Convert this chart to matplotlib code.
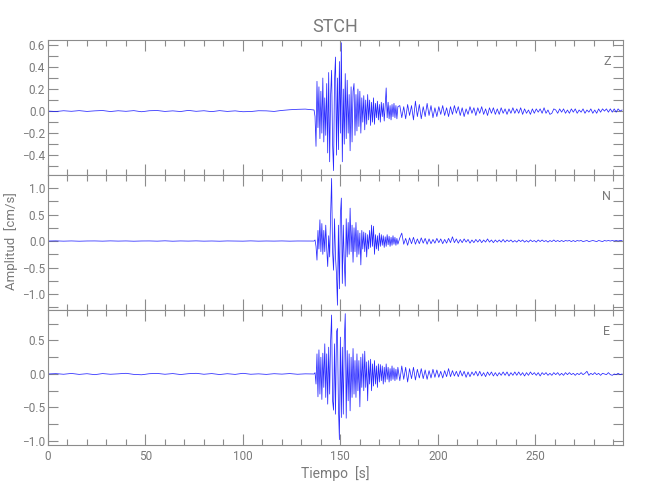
import numpy as np  # Numerical Operations
import matplotlib
matplotlib.use('Agg')
import matplotlib.pyplot as plt  # For plotting graph
from matplotlib.ticker import MultipleLocator

station = 'STCH'
components = ['Z', 'N', 'E']

# Sampling of the three segments of every trace: start time [s], step [s]
pre_start, pre_step = 0.0, 4.0
strong_start, strong_step = 136.5, 0.5
coda_start, coda_step = 180.5, 1.0

# Z component [cm/s]
z_pre = [0.0, -0.004, 0.003, -0.002, 0.004, -0.003, 0.002, 0.005, -0.004, 0.003, -0.002, 0.004,
         -0.006, 0.003, 0.005, -0.003, 0.002, -0.004, 0.006, -0.002, 0.003, -0.005, 0.004, -0.003,
         0.002, -0.006, -0.004, 0.003, 0.002, -0.003, 0.006, 0.012, 0.016, 0.018, 0.01]
z_strong = [0.01, -0.05, -0.32, 0.27, -0.15, 0.22, -0.25, 0.18, -0.2, 0.3, -0.28, 0.12,
            -0.22, 0.25, -0.38, 0.35, -0.46, 0.15, 0.37, -0.3, -0.54, 0.28, 0.49, -0.4,
            0.3, -0.35, 0.45, -0.2, 0.62, -0.46, 0.2, -0.3, 0.34, -0.25, 0.28, -0.2,
            0.15, -0.36, 0.22, -0.28, 0.18, 0.25, -0.22, 0.15, -0.18, 0.2, -0.14, 0.18,
            -0.2, 0.12, -0.1, 0.14, -0.17, 0.1, -0.12, 0.15, -0.08, 0.1, -0.13, 0.08,
            -0.1, 0.12, -0.12, 0.07, -0.06, 0.09, -0.08, 0.06, -0.1, 0.08, -0.05, 0.07,
            -0.09, 0.05, 0.21, -0.06, 0.08, -0.07, 0.05, -0.08, 0.06, -0.05, 0.07, -0.06,
            0.05, -0.07, 0.04]
z_coda = [0.05, -0.06, 0.04, -0.07, 0.06, -0.04, 0.05, -0.08, 0.09, -0.05,
          0.06, -0.07, 0.04, -0.05, 0.07, -0.04, 0.05, -0.06, 0.03, -0.05,
          0.04, -0.03, 0.05, -0.04, 0.03, -0.05, 0.04, -0.03, 0.05, -0.02,
          0.04, -0.04, 0.03, -0.05, 0.02, -0.03, 0.04, -0.02, 0.03, -0.04,
          0.03, -0.02, 0.04, -0.03, 0.02, -0.04, 0.03, -0.02, 0.03, -0.03,
          0.02, -0.03, 0.03, -0.02, 0.02, -0.03, 0.02, -0.02, 0.03, -0.02,
          0.02, -0.02, 0.03, -0.03, 0.02, -0.02, 0.01, -0.03, 0.02, -0.02,
          0.02, -0.01, 0.02, -0.02, 0.03, -0.02, 0.01, -0.03, -0.02, 0.02,
          0.01, -0.02, 0.02, -0.01, 0.02, -0.02, 0.01, -0.02, 0.02, -0.01,
          0.02, -0.02, 0.01, -0.01, 0.02, -0.02, 0.01, -0.01, 0.02, -0.02,
          0.01, -0.02, 0.02, -0.01, 0.02, 0.0, 0.02, -0.01, 0.02, -0.01,
          0.02, -0.01, 0.02, 0.0, 0.01]

# N component [cm/s]
n_pre = [0.0, 0.003, -0.002, 0.002, -0.003, 0.001, 0.002, -0.002, 0.003, -0.001, 0.002, -0.003,
         0.001, 0.002, -0.002, 0.004, -0.003, 0.002, -0.001, 0.003, -0.002, 0.001, -0.003, 0.002,
         0.001, -0.002, 0.003, -0.002, 0.001, -0.001, 0.002, -0.002, 0.001, 0.0, 0.0]
n_strong = [0.0, 0.02, -0.1, -0.36, 0.2, -0.15, 0.4, -0.2, 0.33, -0.25, 0.2, -0.2,
            0.3, -0.15, -0.48, 0.1, -0.3, 0.5, 1.18, -0.2, -0.55, 0.42, -0.3, -0.62,
            -1.21, 0.3, -0.9, 0.5, 0.81, -0.8, 0.3, -0.4, -0.85, 0.42, -0.3, 0.35,
            -0.25, 0.62, -0.2, 0.3, -0.4, 0.25, -0.2, 0.35, -0.3, 0.2, -0.25, 0.15,
            -0.45, 0.2, -0.15, 0.17, -0.2, 0.15, -0.3, 0.12, -0.15, 0.2, -0.12, 0.3,
            -0.1, 0.28, -0.25, 0.12, -0.15, 0.1, -0.18, 0.15, -0.1, 0.12, -0.08, 0.1,
            -0.12, 0.08, -0.1, 0.12, -0.07, 0.09, -0.1, 0.07, -0.08, 0.1, -0.06, 0.07,
            -0.08, 0.05, -0.06]
n_coda = [0.06, 0.15, -0.06, 0.05, -0.08, 0.06, -0.05, 0.07, -0.06, 0.04,
          -0.05, 0.06, -0.04, 0.05, -0.06, 0.04, -0.05, 0.03, -0.04, 0.05,
          -0.03, 0.04, -0.05, 0.03, -0.04, 0.05, -0.03, 0.08, -0.03, 0.04,
          -0.04, 0.03, -0.03, 0.04, -0.02, 0.03, -0.04, 0.02, -0.03, 0.03,
          -0.02, 0.03, -0.03, 0.02, -0.02, 0.04, -0.02, 0.02, -0.03, 0.02,
          -0.02, 0.02, -0.02, 0.03, -0.02, 0.02, -0.01, 0.02, -0.02, 0.01,
          -0.02, 0.02, -0.01, 0.02, -0.02, 0.01, -0.02, 0.02, -0.01, 0.01,
          -0.02, 0.02, -0.01, 0.02, -0.01, 0.01, -0.02, 0.01, -0.01, 0.02,
          -0.01, 0.01, -0.01, 0.01, -0.01, 0.01, 0.0, 0.01, -0.01, 0.01,
          -0.01, 0.01, 0.0, 0.01, -0.01, 0.0, 0.01, -0.01, 0.0, 0.01,
          0.0, -0.01, 0.01, 0.0, -0.01, 0.01, 0.0, 0.01, 0.0, 0.01,
          0.0, 0.01, 0.0, 0.01, 0.01]

# E component [cm/s]
e_pre = [0.0, 0.005, -0.004, 0.008, -0.006, 0.004, -0.01, 0.006, -0.004, 0.002, 0.01, -0.006,
         -0.012, 0.004, 0.008, -0.004, 0.006, -0.008, 0.004, 0.01, -0.004, 0.006, -0.008, 0.004,
         -0.006, 0.01, -0.004, 0.002, -0.006, 0.004, -0.002, 0.006, -0.004, 0.002, 0.0]
e_strong = [0.0, 0.02, -0.15, 0.3, -0.34, 0.36, -0.3, 0.25, -0.38, 0.31, -0.2, 0.45,
            -0.35, 0.3, -0.45, 0.4, -0.3, 0.5, 0.88, -0.4, -0.54, 0.45, -0.6, 0.63,
            0.68, -0.5, -0.98, 0.55, -0.65, 0.4, -0.6, 0.5, 0.9, -0.66, 0.35, -0.4,
            0.3, -0.55, 0.25, -0.35, 0.38, -0.3, 0.2, -0.35, 0.3, -0.25, 0.2, -0.49,
            0.25, -0.2, 0.3, -0.25, 0.34, -0.2, 0.18, -0.4, 0.2, -0.15, 0.22, -0.25,
            0.15, -0.18, 0.2, -0.15, 0.12, -0.2, 0.15, -0.12, 0.14, -0.1, 0.12, -0.15,
            0.1, -0.12, 0.15, -0.08, 0.1, -0.12, 0.08, -0.1, 0.12, -0.08, 0.09, -0.1,
            0.07, -0.08, 0.1]
e_coda = [-0.1, 0.12, -0.08, 0.1, -0.12, 0.08, -0.07, 0.1, -0.09, 0.07,
          -0.06, 0.08, -0.07, 0.06, -0.08, 0.05, -0.06, 0.07, -0.05, 0.06,
          -0.05, 0.04, -0.06, 0.05, -0.04, 0.08, -0.04, 0.05, -0.03, 0.04,
          -0.04, 0.05, -0.03, 0.04, -0.05, 0.03, -0.04, 0.03, -0.02, 0.04,
          -0.03, 0.04, -0.03, 0.02, -0.04, 0.03, -0.02, 0.03, -0.03, 0.02,
          -0.03, 0.02, -0.02, 0.03, -0.02, 0.03, -0.03, 0.02, -0.02, 0.03,
          -0.02, 0.03, -0.02, 0.02, -0.03, 0.02, -0.02, 0.03, -0.01, 0.02,
          -0.02, 0.02, -0.03, 0.02, -0.01, 0.02, -0.02, 0.01, -0.02, 0.02,
          -0.01, 0.02, -0.02, 0.01, -0.02, 0.02, -0.01, 0.02, -0.01, 0.01,
          -0.02, 0.01, -0.01, 0.02, -0.01, 0.01, 0.04, -0.02, 0.01, -0.01,
          0.02, -0.01, 0.01, -0.02, 0.01, 0.0, -0.01, 0.02, -0.01, -0.02,
          0.0, -0.01, 0.01, -0.01, 0.0]

# Axis ranges per panel
x_range = (0, 295)
y_ranges = [(-0.58, 0.645), (-1.30, 1.245), (-1.06, 0.955)]
y_major = [0.2, 0.5, 0.5]
y_minor = [0.1, 0.25, 0.25]

GRAY = '#8c8c8c'
TEXT = '#7a7a7a'
FONT = ['Roboto', 'DejaVu Sans']


def build_trace(pre, strong, coda):
    # Join the three segments into one time series
    t = np.concatenate([
        pre_start + pre_step * np.arange(len(pre)),
        strong_start + strong_step * np.arange(len(strong)),
        coda_start + coda_step * np.arange(len(coda)),
    ])
    v = np.concatenate([pre, strong, coda])
    return t, v


def style_axis(ax, i):
    ax.set_xlim(*x_range)
    ax.set_ylim(*y_ranges[i])
    ax.xaxis.set_major_locator(MultipleLocator(50))
    ax.xaxis.set_minor_locator(MultipleLocator(10))
    ax.yaxis.set_major_locator(MultipleLocator(y_major[i]))
    ax.yaxis.set_minor_locator(MultipleLocator(y_minor[i]))
    ax.tick_params(which='both', direction='in', top=True, right=True,
                   colors=GRAY, labelcolor=TEXT, labelsize=8.5, width=0.8)
    ax.tick_params(axis='x', which='major', length=8)
    ax.tick_params(axis='x', which='minor', length=4)
    ax.tick_params(axis='y', which='both', length=7, pad=2)
    for s in ax.spines.values():
        s.set_color(GRAY)
        s.set_linewidth(0.8)


plt.rcParams['font.family'] = FONT
fig = plt.figure(figsize=(6.5, 5), dpi=100)

traces = [build_trace(z_pre, z_strong, z_coda),
          build_trace(n_pre, n_strong, n_coda),
          build_trace(e_pre, e_strong, e_coda)]

axes = []
for i, (t, v) in enumerate(traces):
    ax = fig.add_axes([48 / 650, 1 - (175 + 135 * i) / 500, 575 / 650, 135 / 500])
    ax.plot(t, v, color='#1010ff', linewidth=0.55, alpha=0.9)
    style_axis(ax, i)
    ax.text(0.972, 0.84, components[i], transform=ax.transAxes, ha='center', va='center',
            color=TEXT, fontsize=9)
    if i < 2:
        ax.tick_params(labelbottom=False)
    axes.append(ax)

axes[0].set_title(station, color=TEXT, fontsize=13, pad=6)
# y label placed by hand so it stays inside the figure
fig.text(11 / 650, 1 - 241 / 500, 'Amplitud  [cm/s]', rotation=90, ha='center', va='center',
         color=TEXT, fontsize=9.5)
axes[2].set_xlabel('Tiempo  [s]', color=TEXT, fontsize=10, labelpad=2)

fig.savefig('out.png', dpi=100)
